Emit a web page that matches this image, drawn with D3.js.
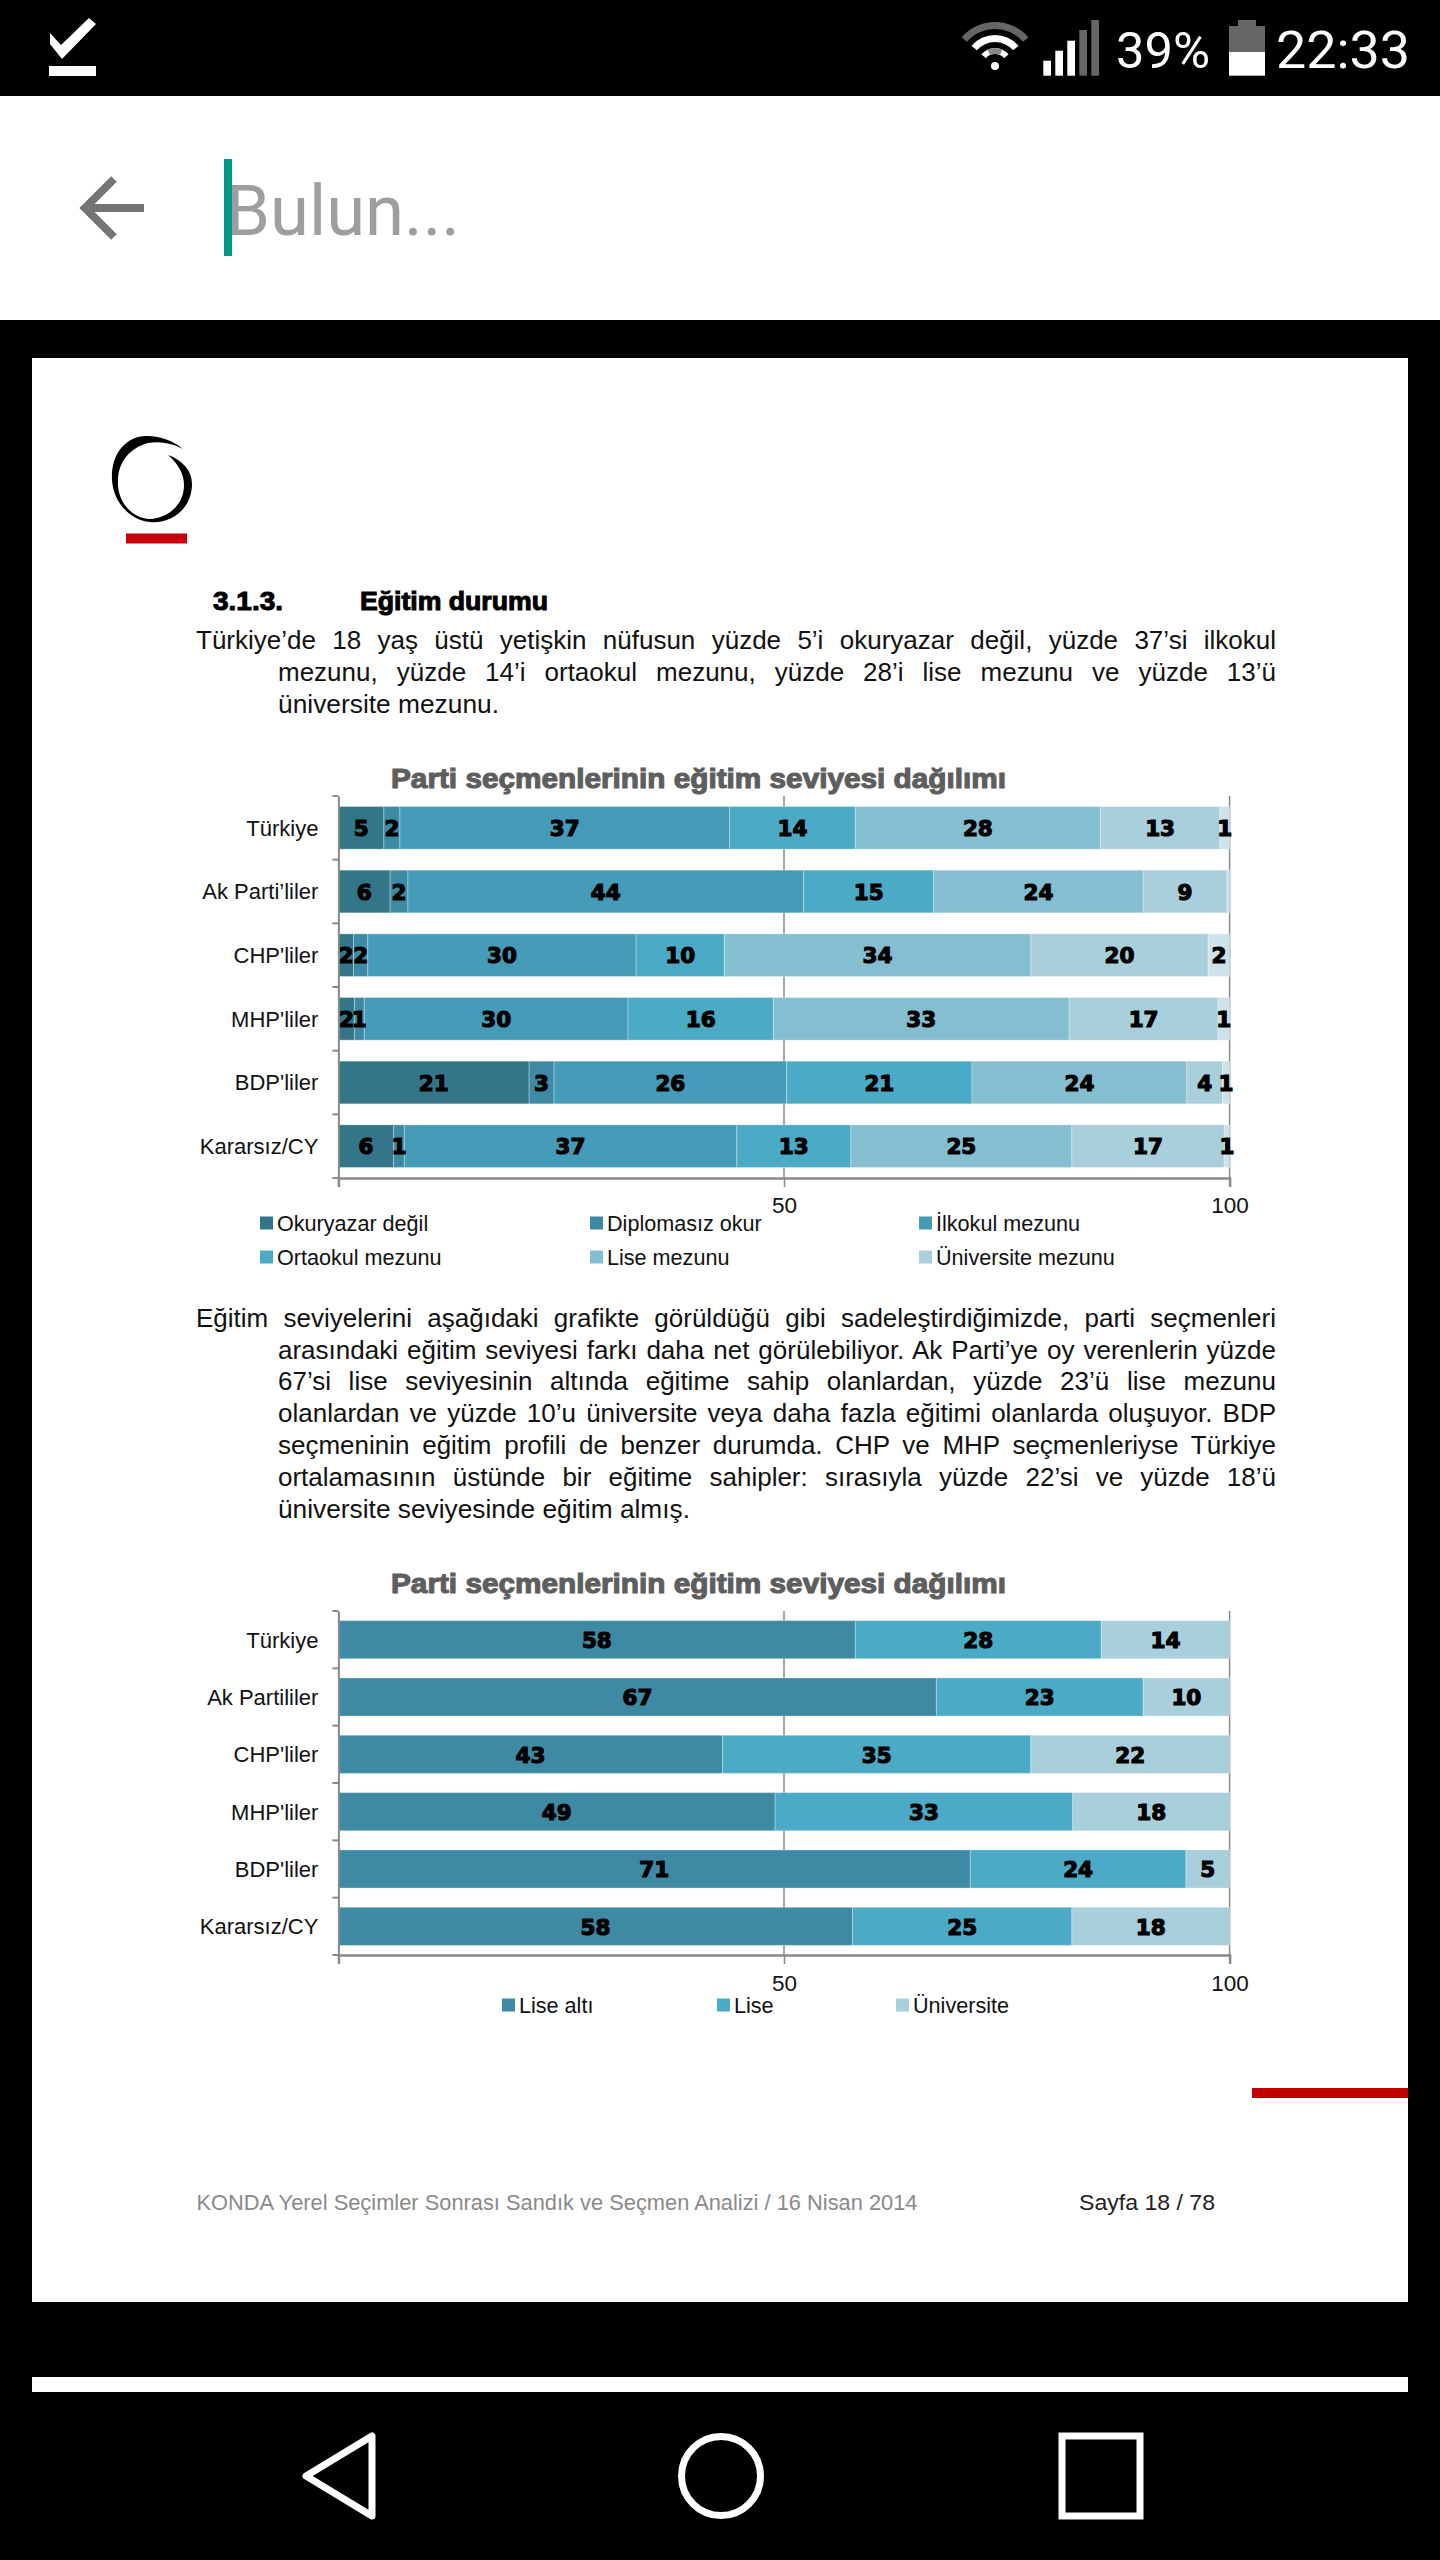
<!DOCTYPE html>
<html lang="tr"><head><meta charset="utf-8">
<script src="https://cdn.jsdelivr.net/npm/d3@7/dist/d3.min.js"></script>
<style>html,body{margin:0;padding:0;background:#000}svg{display:block}text{font-family:"Liberation Sans",Arial,sans-serif}</style>
</head><body><div id="c"></div>
<script>
// ---- data ----
const categories1 = ["Türkiye","Ak Parti’liler","CHP'liler","MHP'liler","BDP'liler","Kararsız/CY"];
const categories2 = ["Türkiye","Ak Partililer","CHP'liler","MHP'liler","BDP'liler","Kararsız/CY"];
const okuryazarDegil = [5.1,5.8,1.7,1.8,21.4,6.2];
const diplomasizOkur = [1.8,2.0,1.6,1.1,2.8,1.2];
const ilkokulMezunu  = [37.0,44.4,30.1,29.6,26.1,37.3];
const ortaokulMezunu = [14.1,14.6,9.9,16.3,20.8,12.8];
const liseMezunu     = [27.5,23.5,34.4,33.2,24.1,24.8];
const universiteMez  = [13.4,9.4,19.9,16.7,4.0,17.1];
const diger          = [1.1,0.3,2.4,1.3,0.8,0.6];
const liseAlti   = [58.0,67.1,43.1,49.0,70.9,57.7];
const lise       = [27.6,23.2,34.6,33.4,24.2,24.6];
const universite = [14.4,9.7,22.3,17.6,4.9,17.7];
const ticks = [0,50,100];
const legend1 = ["Okuryazar değil","Diplomasız okur","İlkokul mezunu","Ortaokul mezunu","Lise mezunu","Üniversite mezunu"];
const legend2 = ["Lise altı","Lise","Üniversite"];
const colors1 = ["#33768a","#3e8aa4","#469bb8","#4babc6","#85bdd1","#a9cedc","#cde2ea"];
const colors2 = ["#3e8aa4","#4babc6","#a9cedc"];
const series1 = [okuryazarDegil,diplomasizOkur,ilkokulMezunu,ortaokulMezunu,liseMezunu,universiteMez,diger];
const series2 = [liseAlti,lise,universite];
const title = "Parti seçmenlerinin eğitim seviyesi dağılımı";
const para1 = ["Türkiye’de 18 yaş üstü yetişkin nüfusun yüzde 5’i okuryazar değil, yüzde 37’si ilkokul",
 "mezunu, yüzde 14’i ortaokul mezunu, yüzde 28’i lise mezunu ve yüzde 13’ü",
 "üniversite mezunu."];
const para2 = ["Eğitim seviyelerini aşağıdaki grafikte görüldüğü gibi sadeleştirdiğimizde, parti seçmenleri",
 "arasındaki eğitim seviyesi farkı daha net görülebiliyor. Ak Parti’ye oy verenlerin yüzde",
 "67’si lise seviyesinin altında eğitime sahip olanlardan, yüzde 23’ü lise mezunu",
 "olanlardan ve yüzde 10’u üniversite veya daha fazla eğitimi olanlarda oluşuyor. BDP",
 "seçmeninin eğitim profili de benzer durumda. CHP ve MHP seçmenleriyse Türkiye",
 "ortalamasının üstünde bir eğitime sahipler: sırasıyla yüzde 22’si ve yüzde 18’ü",
 "üniversite seviyesinde eğitim almış."];

// ---- page ----
const svg = d3.select("#c").append("svg").attr("width",1440).attr("height",2560);
svg.append("rect").attr("width",1440).attr("height",2560).attr("fill","#000");
const rect=(x,y,w,h,f)=>svg.append("rect").attr("x",x).attr("y",y).attr("width",w).attr("height",h).attr("fill",f);
const fit=(sel,w)=>sel.attr("textLength",w).attr("lengthAdjust","spacingAndGlyphs");
function txt(x,y,s,o={}){
  const t=(o.parent||svg).append("text").attr("x",x).attr("y",y).text(s)
    .attr("font-size",o.size||24).attr("fill",o.fill||"#111");
  if(o.family) t.style("font-family",o.family);
  if(o.weight) t.attr("font-weight",o.weight);
  if(o.stroke) t.attr("stroke",o.fill||"#111").attr("stroke-width",o.stroke);
  if(o.anchor) t.attr("text-anchor",o.anchor);
  if(o.w) fit(t,o.w);
  return t;
}
// top chrome
rect(0,96,1440,224,"#fff");
rect(32,358,1376,1944,"#fff");
rect(32,2377,1376,15,"#fff");
// status icons
svg.append("path").attr("d","M50 36 L61 48 L89 21 L96 27 L62 62 L50 47Z").attr("fill","#fff").attr("transform","translate(0,-3)");
rect(49,66,47,10,"#fff");
const wifi=(r,c,w,a)=>svg.append("path").attr("d",d3.arc()({innerRadius:r-w,outerRadius:r,startAngle:-a,endAngle:a})).attr("transform","translate(995,66)").attr("fill",c);
wifi(44,"#666",7,0.86); wifi(31,"#fff",7,0.86); wifi(18,"#fff",6,0.86); wifi(18,"#888",6,0.42);
svg.append("circle").attr("cx",995).attr("cy",66).attr("r",4).attr("fill","#fff");
[[1043.3,60.7,"#fff"],[1055.3,50.7,"#fff"],[1067.3,40.7,"#fff"],[1079.3,30,"#666"],[1091.3,20,"#666"]].forEach(d=>rect(d[0],d[1],7.7,75.7-d[1],d[2]));
rect(1229,26,36,26,"#666"); rect(1238,20,18,6,"#666"); rect(1229,52,36,23.7,"#fff");
txt(1116,68,"39%",{size:50,fill:"#fff",family:"Roboto",w:94});
txt(1276,68,"22:33",{size:52,fill:"#fff",family:"Roboto",w:134});
// search bar
svg.append("path").attr("d","M144 208 H90 M114 179 L85 208 L114 237").attr("fill","none").attr("stroke","#757575").attr("stroke-width",8);
txt(226,235,"Bulun...",{size:70,fill:"#9e9e9e",family:"Roboto",w:234});
rect(224,159,8,97,"#009688");
// logo
svg.append("path").attr("d","M183 449 C170 438 150 433 135 438 C118 445 111 462 112 480 C113 500 128 520 150 522 C172 524 192 508 192 484 C192 470 182 460 168 455 C176 462 184 472 184 485 C184 505 168 518 150 519 C130 518 118 500 118 484 C117 462 130 448 148 443 C160 441 172 443 183 449Z").attr("fill","#000");
rect(126,533.5,61,10,"#c8000a");
// body text
function justify(line,x1,x2,y,size,just,w){
  const t=txt(x1,y,line,{size:size,fill:"#111",w:w});
  if(just){
    const n=line.split(" ").length-1, l=t.node().getComputedTextLength();
    t.attr("word-spacing",(x2-x1-l)/n);
  }
  return t;
}
txt(213,610,"3.1.3.",{size:25,weight:"bold",stroke:1,w:70,fill:"#000"});
txt(360,610,"Eğitim durumu",{size:25,weight:"bold",stroke:1,w:188,fill:"#000"});
const bodySize=26;
justify(para1[0],196,1276,649,bodySize,true);
justify(para1[1],278,1276,681,bodySize,true);
justify(para1[2],278,1276,713,bodySize,false,221);
const yPara2=[1327,1359,1390,1422,1454,1486,1518];
para2.forEach((l,i)=>justify(l,i?278:196,1276,yPara2[i],bodySize,i<6,i==6?412:null));
// footer
rect(1252,2088,156,10,"#c00000");
txt(196.5,2210,"KONDA Yerel Seçimler Sonrası Sandık ve Seçmen Analizi / 16 Nisan 2014",{size:22,fill:"#8a8a8a",w:721});
txt(1079,2210,"Sayfa 18 / 78",{size:22,fill:"#222",w:136});
// nav
svg.append("path").attr("d","M372 2436 V2516 L306 2476Z").attr("fill","none").attr("stroke","#fff").attr("stroke-width",7).attr("stroke-linejoin","round");
svg.append("circle").attr("cx",721).attr("cy",2476).attr("r",39.5).attr("fill","none").attr("stroke","#fff").attr("stroke-width",7);
svg.append("rect").attr("x",1062).attr("y",2436).attr("width",78).attr("height",80).attr("fill","none").attr("stroke","#fff").attr("stroke-width",7);

// ---- charts ----
function chart(o){
  const g=svg.append("g");
  const x=d3.scaleLinear().domain([0,100]).range([338.4,1229.6]);
  const y=d3.scaleBand().domain(o.cats).range([o.top,o.bottom]).paddingInner(o.pad).paddingOuter(o.pad/2);
  txt(391,o.titleY,title,{parent:g,size:27,weight:"bold",stroke:1.1,fill:"#5e5e5e",w:615});
  // grid
  g.selectAll(".grid").data([50,100]).enter().append("line").attr("x1",d=>x(d)).attr("x2",d=>x(d)).attr("y1",o.top).attr("y2",o.bottom).attr("stroke","#8a8a8a").attr("stroke-width",1.5);
  // bars
  o.series.forEach((vals,si)=>{
    const lo=o.cats.map((c,i)=>d3.sum(o.series.slice(0,si),s=>s[i]));
    const gg=g.append("g").attr("fill",o.colors[si]).attr("stroke","#fff").attr("stroke-opacity",0.3).attr("stroke-width",1);
    gg.selectAll("rect").data(vals).enter().append("rect")
      .attr("x",(d,i)=>x(lo[i])).attr("y",(d,i)=>y(o.cats[i]))
      .attr("width",d=>Math.max(0,x(d)-x(0))).attr("height",y.bandwidth());
    vals.forEach((v,i)=>{ if(v>=0.5) o.labels.push({t:String(Math.round(v)),x:x(lo[i]+v/2),y:y(o.cats[i])+y.bandwidth()/2}); });
  });
  // labels on top
  const lg=g.append("g");
  lg.selectAll("text").data(o.labels).enter().append("text")
    .attr("x",d=>d.x).attr("y",d=>d.y).attr("dy","0.38em").attr("text-anchor","middle")
    .style("font-family",'"DejaVu Sans"')
    .attr("font-size",21.5).attr("font-weight","bold").attr("fill","#000").attr("stroke","#000").attr("stroke-width",1.2).text(d=>d.t);
  // y axis
  const ya=g.append("g").attr("transform",`translate(${x(0)},0)`).call(d3.axisLeft(y).tickSize(0).tickPadding(20));
  ya.select(".domain").attr("stroke","#8a8a8a").attr("stroke-width",2);
  ya.selectAll("text").attr("font-size",22).attr("fill","#111").style("font-family",'"Liberation Sans"').attr("dy","0.36em");
  const bw=y.step();
  g.selectAll(".yt").data(d3.range(o.cats.length+1)).enter().append("line")
    .attr("x1",x(0)-6).attr("x2",x(0)).attr("y1",i=>o.top+i*bw).attr("y2",i=>o.top+i*bw).attr("stroke","#8a8a8a").attr("stroke-width",2);
  // x axis
  const xa=g.append("g").attr("transform",`translate(0,${o.bottom})`).call(d3.axisBottom(x).tickValues(ticks).tickSize(9).tickPadding(o.tickPad).tickFormat(d=>d?d:""));
  xa.select(".domain").attr("stroke","#8a8a8a").attr("stroke-width",2.5);
  xa.selectAll("line").attr("stroke","#8a8a8a").attr("stroke-width",1.5);
  xa.selectAll("text").attr("font-size",22.5).attr("fill","#111").style("font-family",'"Liberation Sans"');
  // legend
  o.legend.forEach((s,i)=>{
    const p=o.legendPos[i];
    g.append("rect").attr("x",p[0]).attr("y",p[1]-6.5).attr("width",13).attr("height",13).attr("fill",o.colors[i]);
    txt(p[0]+17,p[1]+7.5,s,{parent:g,size:21.6,fill:"#111"});
  });
}
chart({cats:categories1,series:series1,colors:colors1,labels:[],top:796,bottom:1178,pad:0.33,titleY:788,tickPad:10,legend:legend1,
  legendPos:[[260,1223],[590,1223],[919,1223],[260,1257],[590,1257],[919,1257]]});
chart({cats:categories2,series:series2,colors:colors2,labels:[],top:1611,bottom:1955,pad:0.335,titleY:1593,tickPad:11,legend:legend2,
  legendPos:[[502,2005],[717,2005],[896,2005]]});
</script></body></html>
